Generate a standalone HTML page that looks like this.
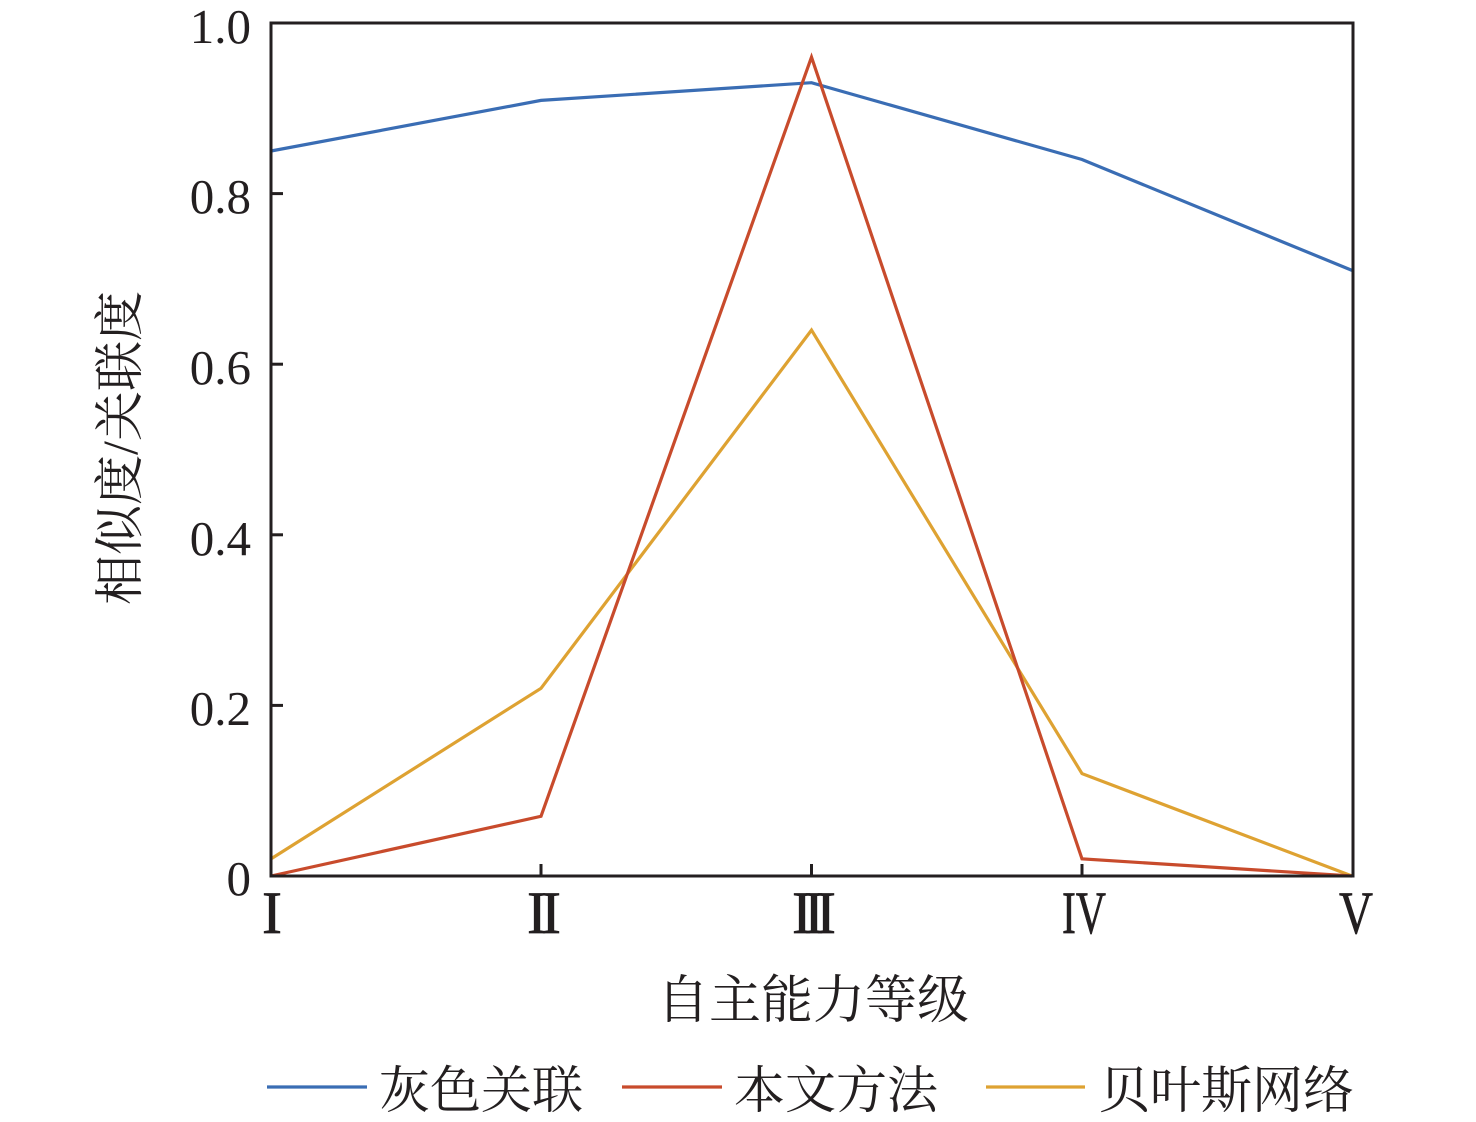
<!DOCTYPE html>
<html>
<head>
<meta charset="utf-8">
<style>
html,body{margin:0;padding:0;background:#fff;}
svg{display:block;}
</style>
</head>
<body>
<svg width="1476" height="1122" viewBox="0 0 1476 1122" xmlns="http://www.w3.org/2000/svg">
<rect width="1476" height="1122" fill="#fff"/>
<!-- series -->
<g fill="none" stroke-width="3.2" stroke-linejoin="miter">
<polyline stroke="#3a6db4" points="271,151 541,100.4 811.5,82.7 1082,159.5 1352,270.4"/>
<polyline stroke="#dea232" points="271,858.9 541,688.3 811.5,330.1 1082,773.6 1352,876"/>
<polyline stroke="#c84b2c" points="271,876 541,816.3 811.5,57.1 1082,858.9 1352,876"/>
</g>
<!-- axes box -->
<rect x="271" y="23" width="1082" height="853" fill="none" stroke="#231f20" stroke-width="3"/>
<!-- ticks -->
<g stroke="#231f20" stroke-width="3">
<line x1="271" y1="193.6" x2="283" y2="193.6"/>
<line x1="271" y1="364.2" x2="283" y2="364.2"/>
<line x1="271" y1="534.8" x2="283" y2="534.8"/>
<line x1="271" y1="705.4" x2="283" y2="705.4"/>
<line x1="541" y1="864" x2="541" y2="876"/>
<line x1="811.5" y1="864" x2="811.5" y2="876"/>
<line x1="1082" y1="864" x2="1082" y2="876"/>
</g>
<!-- y tick labels -->
<g font-family="'Liberation Serif', serif" font-size="49" fill="#231f20" text-anchor="end">
<text x="251" y="43">1.0</text>
<text x="251" y="213">0.8</text>
<text x="251" y="384">0.6</text>
<text x="251" y="555">0.4</text>
<text x="251" y="725">0.2</text>
<text x="251" y="895">0</text>
</g>
<!-- x tick labels -->
<g font-family="'Liberation Serif', serif" font-size="60" fill="#231f20" stroke="#231f20" stroke-width="0.7">
<text x="262" y="933">I</text>
<text x="527 541" y="933">II</text>
<text x="792 804 816" y="933">III</text>
<text x="1062" y="933" textLength="44" lengthAdjust="spacingAndGlyphs">IV</text>
<text x="1339" y="933" textLength="34" lengthAdjust="spacingAndGlyphs">V</text>
</g>
<!-- axis titles -->
<text x="813" y="1018" font-family="'Liberation Serif','Noto Serif CJK SC',serif" font-size="52" fill="#231f20" text-anchor="middle">自主能力等级</text>
<text transform="translate(137,448) rotate(-90)" font-family="'Liberation Serif','Noto Serif CJK SC',serif" font-size="50" fill="#231f20" text-anchor="middle">相似度/关联度</text>
<!-- legend -->
<g stroke-width="3.2">
<line x1="267" y1="1087" x2="367" y2="1087" stroke="#3a6db4"/>
<line x1="622" y1="1087" x2="722" y2="1087" stroke="#c84b2c"/>
<line x1="986" y1="1087" x2="1085" y2="1087" stroke="#dea232"/>
</g>
<g font-family="'Liberation Serif','Noto Serif CJK SC',serif" font-size="51" fill="#231f20">
<text x="379" y="1108">灰色关联</text>
<text x="734" y="1108">本文方法</text>
<text x="1099" y="1108">贝叶斯网络</text>
</g>
</svg>
</body>
</html>
